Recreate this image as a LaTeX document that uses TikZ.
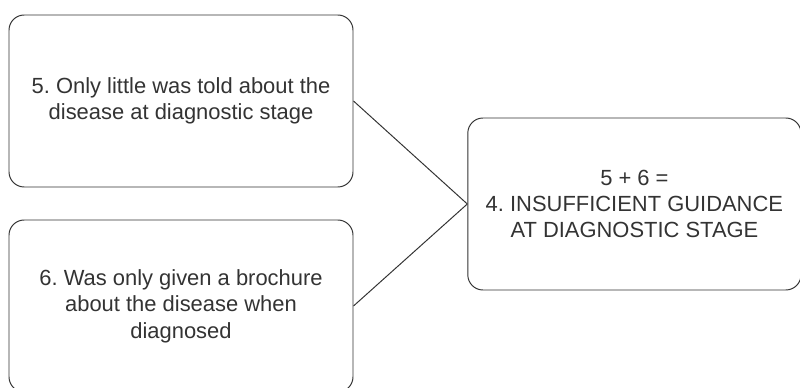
\documentclass[tikz,border=0pt]{standalone}
\usepackage{fontspec}
\setmainfont{Liberation Sans}
\frenchspacing
\tikzset{
	card/.style={draw=black!80, line width=0.7pt, rounded corners=0.38cm,
		minimum width=8.6cm, minimum height=4.3cm, align=center,
		text=black!80, font=\fontsize{15.6}{18.8}\selectfont}
}
\begin{document}
\begin{tikzpicture}
	\useasboundingbox (0,0) rectangle (20,9.7);
	
	\node[card] (little) at (4.525,7.175) {5. Only little was told about the\\disease at diagnostic stage};
	\node[card] (brochure) at (4.525,2.05) {6. Was only given a brochure\\about the disease when\\diagnosed};
	\node[card, minimum width=8.33cm] (guidance) at (15.86,4.6) {5 + 6 =\\4. INSUFFICIENT GUIDANCE\\AT DIAGNOSTIC STAGE};
	
	\draw[line width = 0.7pt, black!80] (little.east) -- (guidance.west);
	\draw[line width = 0.7pt, black!80] (brochure.east) -- (guidance.west);
	
\end{tikzpicture}
\end{document}
